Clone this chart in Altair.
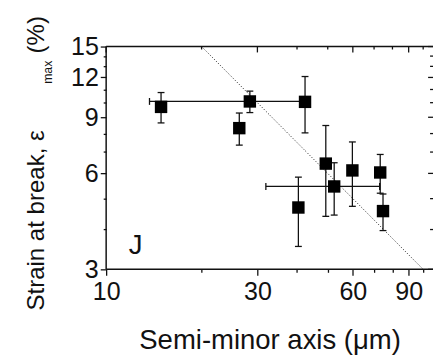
import altair as alt
import pandas as pd

# ---- data ----
semi_minor = [14.9, 28.4, 26.3, 42.4, 49.3, 52.4, 40.4, 59.8, 73.2, 74.7]
semi_minor_err = [0, 14.7, 0, 0, 0, 20.5, 0, 0, 0, 0]
strain = [9.70, 10.09, 8.32, 10.06, 6.44, 5.46, 4.69, 6.13, 6.04, 4.57]
strain_err = [1.06, 0.78, 0.96, 2.02, 2.04, 1.02, 1.15, 1.40, 0.84, 0.60]

fit_x = [20, 100]
fit_y = [15, 3]

x_major = [10, 30, 60, 90]
x_minor = [20, 40, 50, 70, 80, 100]
y_major = [3, 6, 9, 12, 15]
y_minor = [4, 5, 7, 8, 10, 11, 13, 14]

FONT = "Liberation Sans"
INK = "#111111"
W, H = 333, 227

pts = pd.DataFrame({
    "x": semi_minor,
    "y": strain,
    "ylo": [v - e for v, e in zip(strain, strain_err)],
    "yhi": [v + e for v, e in zip(strain, strain_err)],
    "xlo": [v - e for v, e in zip(semi_minor, semi_minor_err)],
    "xhi": [v + e for v, e in zip(semi_minor, semi_minor_err)],
    "has_xerr": [e > 0 for e in semi_minor_err],
})
xerr_pts = pts[pts["has_xerr"]]
fit = pd.DataFrame({"x": fit_x, "y": fit_y})
txt = pd.DataFrame({"t": ["J"]})

xs = alt.Scale(type="log", domain=[10, 107.4], nice=False)
ys = alt.Scale(type="log", domain=[3, 15], nice=False)

xmaj_test = "indexof([10,30,60,90], datum.value) >= 0"
ymaj_test = "indexof([3,6,9,12,15], datum.value) >= 0"

x_axis = alt.Axis(
    values=x_major + x_minor,
    labelExpr=f"{xmaj_test} ? format(datum.value, 'd') : ''",
    tickSize={"condition": {"test": xmaj_test, "value": 6}, "value": 3},
    domain=False, grid=False, labelOverlap=False, labelFlush=False,
    labelFont=FONT, labelFontSize=25.5, labelColor=INK, labelPadding=5,
    tickColor=INK, tickWidth=1.3,
    title="Semi-minor axis (μm)", titleFont=FONT, titleFontSize=28,
    titleFontWeight="normal", titleColor=INK, titlePadding=22,
)
y_axis = alt.Axis(
    values=y_major + y_minor,
    labelExpr=f"{ymaj_test} ? format(datum.value, 'd') : ''",
    tickSize={"condition": {"test": ymaj_test, "value": 6}, "value": 3},
    domain=False, grid=False, labelOverlap=False, labelFlush=False,
    labelFont=FONT, labelFontSize=25.5, labelColor=INK, labelPadding=2,
    tickColor=INK, tickWidth=1.3,
)

base = alt.Chart(pts)

fit_line = alt.Chart(fit).mark_line(
    color=INK, strokeWidth=1, strokeDash=[1, 2]
).encode(
    x=alt.X("x:Q", scale=xs, axis=x_axis),
    y=alt.Y("y:Q", scale=ys, axis=y_axis, title=None),
)

ybars = base.mark_rule(color=INK, strokeWidth=1.3).encode(
    x=alt.X("x:Q", scale=xs), y=alt.Y("ylo:Q", scale=ys), y2="yhi:Q"
)
ycap_lo = base.mark_tick(orient="horizontal", size=7, thickness=1.3, color=INK, opacity=1).encode(
    x=alt.X("x:Q", scale=xs), y=alt.Y("ylo:Q", scale=ys)
)
ycap_hi = base.mark_tick(orient="horizontal", size=7, thickness=1.3, color=INK, opacity=1).encode(
    x=alt.X("x:Q", scale=xs), y=alt.Y("yhi:Q", scale=ys)
)

xb = alt.Chart(xerr_pts)
xbars = xb.mark_rule(color=INK, strokeWidth=1.3).encode(
    x=alt.X("xlo:Q", scale=xs), x2="xhi:Q", y=alt.Y("y:Q", scale=ys)
)
xcap_lo = xb.mark_tick(orient="vertical", size=7, thickness=1.3, color=INK, opacity=1).encode(
    x=alt.X("xlo:Q", scale=xs), y=alt.Y("y:Q", scale=ys)
)
xcap_hi = xb.mark_tick(orient="vertical", size=7, thickness=1.3, color=INK, opacity=1).encode(
    x=alt.X("xhi:Q", scale=xs), y=alt.Y("y:Q", scale=ys)
)

squares = base.mark_point(shape="square", filled=True, size=160, color="#000000", opacity=1).encode(
    x=alt.X("x:Q", scale=xs), y=alt.Y("y:Q", scale=ys)
)

# frame: top, left, bottom (right edge falls at the window edge)
frame_top = alt.Chart(txt).mark_rule(color=INK, strokeWidth=1.5).encode(
    x=alt.value(0), x2=alt.value(W), y=alt.value(0)
)
frame_left = alt.Chart(txt).mark_rule(color=INK, strokeWidth=1.5).encode(
    x=alt.value(0), y=alt.value(0), y2=alt.value(H)
)
frame_bottom = alt.Chart(txt).mark_rule(color=INK, strokeWidth=1.5).encode(
    x=alt.value(0), x2=alt.value(W), y=alt.value(H)
)

# inward ticks on top and right frame edges
top_major = alt.Chart(pd.DataFrame({"v": x_major})).mark_rule(color=INK, strokeWidth=1.3).encode(
    x=alt.X("v:Q", scale=xs), y=alt.value(0), y2=alt.value(6)
)
top_minor = alt.Chart(pd.DataFrame({"v": x_minor})).mark_rule(color=INK, strokeWidth=1.3).encode(
    x=alt.X("v:Q", scale=xs), y=alt.value(0), y2=alt.value(3)
)
right_major = alt.Chart(pd.DataFrame({"v": y_major})).mark_rule(color=INK, strokeWidth=1.3).encode(
    y=alt.Y("v:Q", scale=ys), x=alt.value(W), x2=alt.value(W - 5)
)
right_minor = alt.Chart(pd.DataFrame({"v": y_minor})).mark_rule(color=INK, strokeWidth=1.3).encode(
    y=alt.Y("v:Q", scale=ys), x=alt.value(W), x2=alt.value(W - 3)
)

panel_label = alt.Chart(txt).mark_text(font=FONT, fontSize=28, color=INK).encode(
    x=alt.value(30), y=alt.value(203), text="t:N"
)

ytitle_main = alt.Chart(pd.DataFrame({"t": ["Strain at break, ε"]})).mark_text(
    font=FONT, fontSize=24.5, color=INK, angle=270, align="left", baseline="alphabetic"
).encode(x=alt.value(-63), y=alt.value(269), text="t:N")
ytitle_sub = alt.Chart(pd.DataFrame({"t": ["max"]})).mark_text(
    font=FONT, fontSize=12.5, color=INK, angle=270, align="left", baseline="alphabetic"
).encode(x=alt.value(-55), y=alt.value(38), text="t:N")
ytitle_pct = alt.Chart(pd.DataFrame({"t": ["(%)"]})).mark_text(
    font=FONT, fontSize=24.5, color=INK, angle=270, align="left", baseline="alphabetic"
).encode(x=alt.value(-63), y=alt.value(7), text="t:N")

chart = alt.layer(
    fit_line, ybars, ycap_lo, ycap_hi, xbars, xcap_lo, xcap_hi, squares,
    frame_top, frame_left, frame_bottom,
    top_major, top_minor, right_major, right_minor,
    panel_label, ytitle_main, ytitle_sub, ytitle_pct,
).properties(
    width=W, height=H,
    padding={"left": 100, "top": 36, "right": 0, "bottom": 85},
    autosize=alt.AutoSizeParams(type="none"),
    background="white",
).configure_view(strokeWidth=0)

chart.save("out.html", embed_options={"renderer": "svg", "actions": False})
